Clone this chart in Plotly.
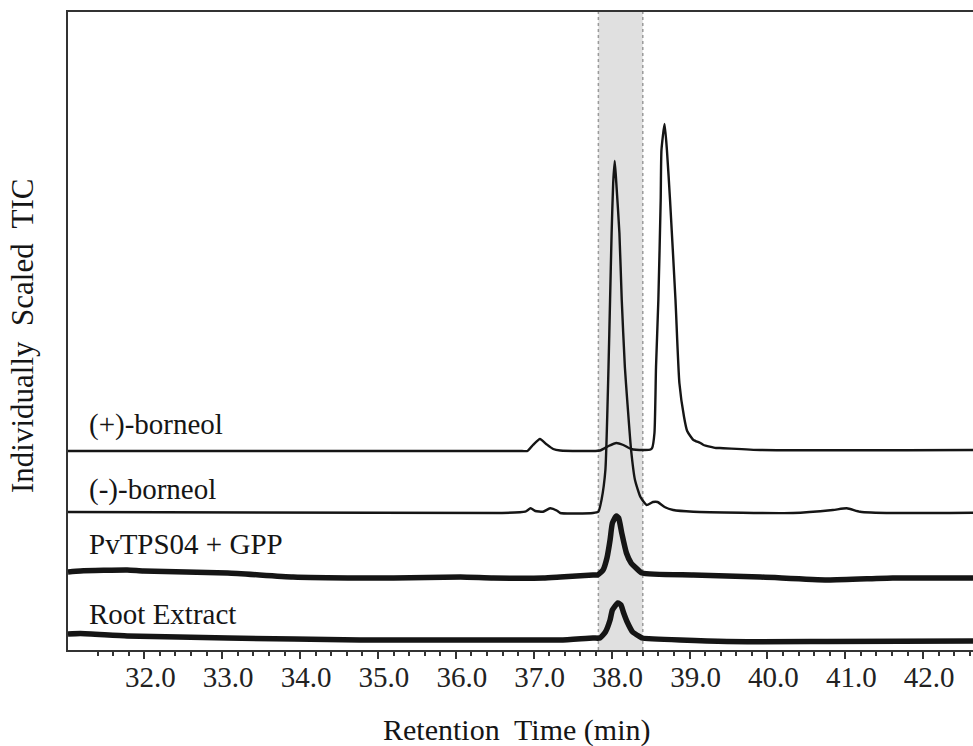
import plotly.graph_objects as go

# Retention time (min) and relative TIC intensity for each run
plus_t = [31.02, 36.85, 36.92, 36.99, 37.08, 37.16, 37.25, 37.34, 37.85, 37.96, 38.06, 38.15,
          38.25, 38.43, 38.50, 38.52, 38.55, 38.57, 38.60, 38.63, 38.64, 38.68, 38.71, 38.75,
          38.82, 38.87, 38.93, 38.97, 39.01, 39.05, 39.14, 39.18, 39.34, 39.39, 39.91, 42.64]
plus_i = [0, 0, 0, 6, 12, 7, 2, 0.5, 0.5, 5, 8, 6,
          2, 1, 1.5, 3, 18, 84, 151, 251, 301, 327, 301, 251,
          151, 68, 34, 20, 15, 11, 8, 6, 3, 3, 1, 1]

minus_t = [31.02, 36.57, 36.89, 36.96, 37.02, 37.12, 37.21, 37.30, 37.34, 37.76, 37.83, 37.87,
           37.92, 37.96, 37.98, 38.00, 38.02, 38.04, 38.06, 38.10, 38.13, 38.17, 38.20, 38.25,
           38.30, 38.37, 38.45, 38.53, 38.59, 38.68, 38.79, 39.05, 40.33, 40.84, 41.02, 41.19,
           41.61, 42.64]
minus_i = [1, 0, 1.3, 4.7, 2, 1.3, 4.7, 2.3, 0, 0, 1.3, 13,
           43, 146, 213, 280, 330, 352, 330, 280, 213, 146, 113, 63,
           33, 16, 8, 11, 11, 6, 3, 1.3, 0, 3, 4.7, 1.3,
           0, 0.3]

enzyme_t = [31.02, 31.18, 31.78, 31.99, 33.07, 33.91, 34.77, 35.20, 36.06, 36.48, 37.12, 37.34,
            37.76, 37.82, 37.89, 37.94, 37.98, 38.01, 38.06, 38.09, 38.13, 38.19, 38.25, 38.30,
            38.39, 39.05, 39.91, 40.77, 41.61, 42.64]
enzyme_i = [4, 5, 6, 5, 3, -1, -2, -2, -1, -2, -2, -1,
            1, 1, 6, 18, 36, 53, 60, 58, 43, 23, 13, 9,
            3, 1, -1, -4, -2, -2]

root_t = [31.02, 31.18, 31.78, 33.07, 34.77, 36.48, 37.34, 37.76, 37.85, 37.92, 37.98, 38.01,
          38.08, 38.12, 38.15, 38.20, 38.27, 38.37, 38.39, 39.48, 40.77, 42.64]
root_i = [6, 6.5, 4, 2, 0, 0, 0, 2, 2, 8, 20, 30,
          37, 35, 28, 18, 8, 3, 2, -1.5, -1.5, -1]

labels = ["(+)-borneol", "(-)-borneol", "PvTPS04 + GPP", "Root Extract"]
major_ticks = [32.0, 33.0, 34.0, 35.0, 36.0, 37.0, 38.0, 39.0, 40.0, 41.0, 42.0]
window = [37.83, 38.40]  # borneol retention window

# vertical stacking of the individually scaled chromatograms
offsets = [199, 137, 74, 10]
widths = [2.4, 2.4, 5.5, 5.5]
label_y = [226, 161, 106, 36]

series = [(plus_t, plus_i), (minus_t, minus_i), (enzyme_t, enzyme_i), (root_t, root_i)]

SERIF = "Times New Roman"
INK = "#151515"

fig = go.Figure()
for (t, inten), off, w in zip(series, offsets, widths):
    fig.add_trace(go.Scatter(
        x=t, y=[v + off for v in inten], mode="lines",
        line=dict(color=INK, width=w, shape="spline", smoothing=0.5),
        hoverinfo="skip"))

# shaded retention window with dotted edges
fig.add_shape(type="rect", xref="x", yref="paper", x0=window[0], x1=window[1], y0=0, y1=1,
              fillcolor="#e0e0e0", line=dict(width=0), layer="below")
for xv in window:
    fig.add_shape(type="line", xref="x", yref="paper", x0=xv, x1=xv, y0=0, y1=1,
                  line=dict(color="#9a9a9a", width=1.5, dash="dot"), layer="below")

for text, yv in zip(labels, label_y):
    fig.add_annotation(x=31.27, y=yv, xref="x", yref="y", text=text, showarrow=False,
                       xanchor="left", yanchor="middle",
                       font=dict(family=SERIF, size=29, color=INK))

fig.add_annotation(x=0.4961, y=-0.126, xref="paper", yref="paper",
                   text="Retention\u00a0 Time (min)", showarrow=False,
                   xanchor="center", yanchor="middle",
                   font=dict(family=SERIF, size=30, color=INK))
fig.add_annotation(x=-0.0497, y=0.4922, xref="paper", yref="paper",
                   text="Individually\u00a0 Scaled\u00a0 TIC", showarrow=False, textangle=-90,
                   xanchor="center", yanchor="middle",
                   font=dict(family=SERIF, size=31, color=INK))

minor_vals = [round(31.4 + 0.2 * k, 1) for k in range(57)]
minor_vals = [v for v in minor_vals if abs(v - round(v)) > 1e-6 and v < 42.64]

fig.update_layout(
    width=973, height=746,
    margin=dict(l=68, r=0, t=12, b=96),
    paper_bgcolor="white", plot_bgcolor="white",
    font=dict(family=SERIF, color=INK),
    showlegend=False,
    xaxis=dict(
        range=[31.02, 42.64], showgrid=False, zeroline=False,
        showline=True, linecolor="#333", linewidth=2, mirror=True,
        ticks="outside", ticklen=7, tickwidth=2, tickcolor="#333",
        tickmode="array", tickvals=major_ticks,
        ticktext=[f"{v:.1f}" for v in major_ticks],
        tickfont=dict(family=SERIF, size=29, color="#222"),
        ticklabelshift=6, ticklabelstandoff=-7,
        minor=dict(tickmode="array", tickvals=minor_vals, ticks="outside",
                   ticklen=4, tickwidth=1.5, tickcolor="#333"),
    ),
    yaxis=dict(
        range=[0, 638], showgrid=False, zeroline=False,
        showline=True, linecolor="#333", linewidth=2,
        showticklabels=False, ticks="",
    ),
)

fig.write_html("out.html")
